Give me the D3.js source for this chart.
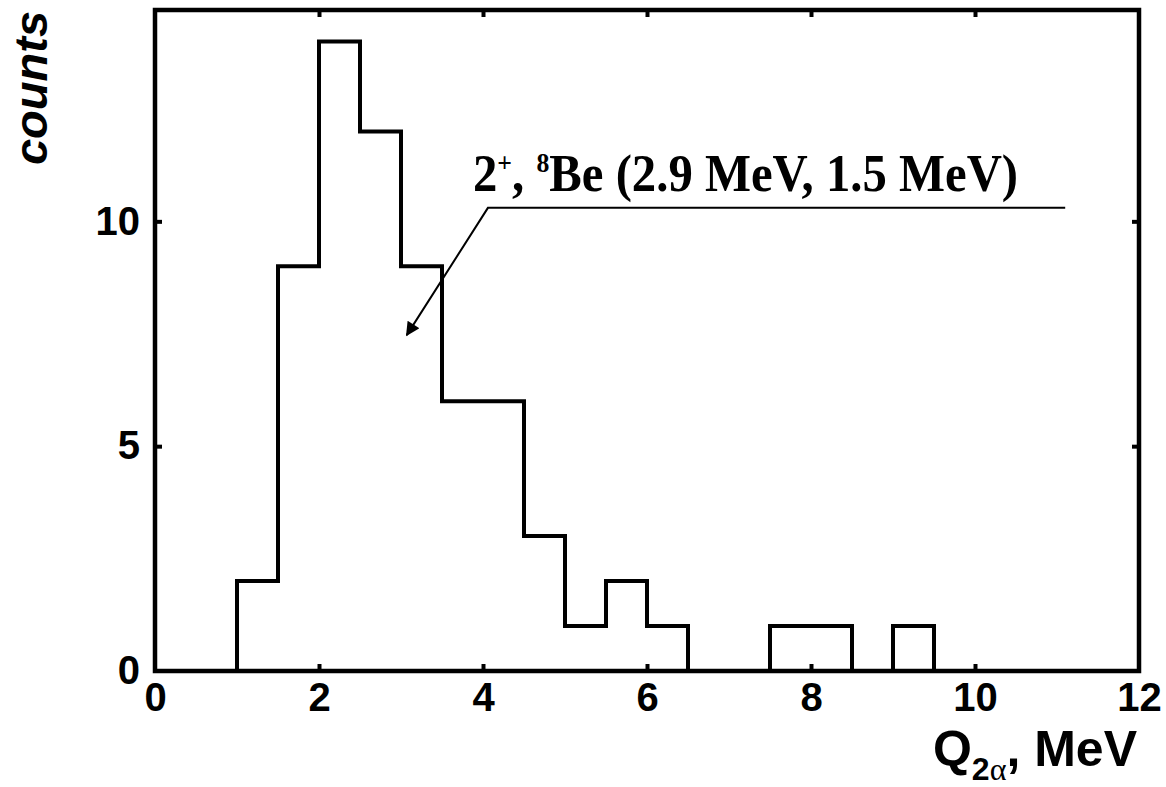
<!DOCTYPE html>
<html>
<head>
<meta charset="utf-8">
<script src="https://cdn.jsdelivr.net/npm/d3@7"></script>
<style>
  html, body { margin: 0; padding: 0; background: #fff; }
  svg { display: block; }
</style>
</head>
<body>
<svg id="chart" width="1166" height="787"></svg>
<script>
// Histogram of Q(2α): bins of 0.5 MeV starting at 0
const binStart = 0;
const binWidth = 0.5;
const binCounts = [0, 0, 2, 9, 14, 12, 9, 6, 6, 3, 1, 2, 1, 0, 0, 1, 1, 0, 1, 0];

const xTicks = [0, 2, 4, 6, 8, 10, 12];
const yTicks = [0, 5, 10];
const xDomain = [0, 12];
const yDomain = [0, 14.7];

// annotation leader: right end, bend, arrow tip (data units)
const leaderPoints = [[11.1, 10.3], [4.06, 10.3], [3.07, 7.47]];

const W = 1166, H = 787;
const margin = { left: 155, right: 27, top: 10, bottom: 116 };
const svg = d3.select("#chart");

const x = d3.scaleLinear().domain(xDomain).range([margin.left, W - margin.right]);
const y = d3.scaleLinear().domain(yDomain).range([H - margin.bottom, margin.top]);

// Step outline of the histogram
const pts = binCounts.map((c, i) => [binStart + i * binWidth, c]);
pts.push([binStart + binCounts.length * binWidth, 0]);
pts.push([xDomain[1], 0]);

svg.append("path")
  .datum(pts)
  .attr("fill", "none")
  .attr("stroke", "#000")
  .attr("stroke-width", 4)
  .attr("stroke-linejoin", "miter")
  .attr("d", d3.line().x(d => x(d[0])).y(d => y(d[1])).curve(d3.curveStepAfter));

// Axes: inward ticks on all four sides
const tickLen = 7;
const inner = (d) => !(d === xDomain[0] || d === xDomain[1]);

const gBottom = svg.append("g").attr("transform", `translate(0,${y(0)})`)
  .call(d3.axisBottom(x).tickValues(xTicks).tickSizeInner(-tickLen).tickSizeOuter(0).tickPadding(12));
const gTop = svg.append("g").attr("transform", `translate(0,${y(yDomain[1])})`)
  .call(d3.axisTop(x).tickValues(xTicks.filter(inner)).tickSizeInner(-tickLen).tickSizeOuter(0).tickFormat(""));
const gLeft = svg.append("g").attr("transform", `translate(${x(0)},0)`)
  .call(d3.axisLeft(y).tickValues(yTicks).tickSizeInner(-tickLen).tickSizeOuter(0).tickPadding(15));
const gRight = svg.append("g").attr("transform", `translate(${x(xDomain[1])},0)`)
  .call(d3.axisRight(y).tickValues(yTicks.filter(d => d !== 0)).tickSizeInner(-tickLen).tickSizeOuter(0).tickFormat(""));

[gBottom, gTop, gLeft, gRight].forEach(g => {
  g.select(".domain").remove();
  g.selectAll(".tick line").attr("stroke", "#000").attr("stroke-width", 4);
  g.selectAll(".tick text")
    .attr("fill", "#000")
    .style("font-family", "'Liberation Sans', Arial, sans-serif")
    .style("font-weight", "bold")
    .style("font-size", "40px");
});
// no tick marks at the corners
gBottom.selectAll(".tick").filter(d => !inner(d)).select("line").remove();
gLeft.selectAll(".tick").filter(d => d === 0).select("line").remove();

// Frame
svg.append("rect")
  .attr("x", x(xDomain[0])).attr("y", y(yDomain[1]))
  .attr("width", x(xDomain[1]) - x(xDomain[0]))
  .attr("height", y(0) - y(yDomain[1]))
  .attr("fill", "none").attr("stroke", "#000").attr("stroke-width", 4.5);

// Y axis title
svg.append("text")
  .attr("transform", "translate(47,88) rotate(-90)")
  .attr("text-anchor", "middle")
  .style("font-family", "'Liberation Sans', Arial, sans-serif")
  .style("font-weight", "bold").style("font-style", "italic").style("font-size", "47px")
  .text("counts");

// X axis title: Q with subscript 2α
const xt = svg.append("text")
  .attr("x", W - 29).attr("y", 766)
  .attr("text-anchor", "end")
  .style("font-family", "'Liberation Sans', Arial, sans-serif")
  .style("font-weight", "bold").style("font-size", "50px");
xt.append("tspan").text("Q");
xt.append("tspan").attr("dy", 14).style("font-size", "32px").text("2");
xt.append("tspan").style("font-size", "32px")
  .style("font-family", "'Liberation Serif', serif").style("font-weight", "normal").text("α");
xt.append("tspan").attr("dy", -14).text(", MeV");

// Annotation with leader line and arrow
svg.append("defs").append("marker")
  .attr("id", "arrow").attr("viewBox", "0 0 10 10")
  .attr("refX", 9).attr("refY", 5)
  .attr("markerWidth", 16).attr("markerHeight", 14)
  .attr("markerUnits", "userSpaceOnUse")
  .attr("orient", "auto")
  .append("path").attr("d", "M0,0 L10,5 L0,10 Z").attr("fill", "#000");

svg.append("path")
  .datum(leaderPoints)
  .attr("d", d3.line().x(d => x(d[0])).y(d => y(d[1])))
  .attr("fill", "none").attr("stroke", "#000").attr("stroke-width", 2)
  .attr("marker-end", "url(#arrow)");

// label set in a slightly condensed bold serif
const ann = svg.append("text")
  .attr("transform", "translate(473,191) scale(0.92,1)")
  .style("font-family", "'Liberation Serif', 'Times New Roman', serif")
  .style("font-weight", "bold").style("font-size", "53px");
ann.append("tspan").text("2");
ann.append("tspan").attr("dy", -19).style("font-size", "28px").text("+");
ann.append("tspan").attr("dy", 19).text(", ");
ann.append("tspan").attr("dy", -19).style("font-size", "28px").text("8");
ann.append("tspan").attr("dy", 19).text("Be (2.9 MeV, 1.5 MeV)");
</script>
</body>
</html>
